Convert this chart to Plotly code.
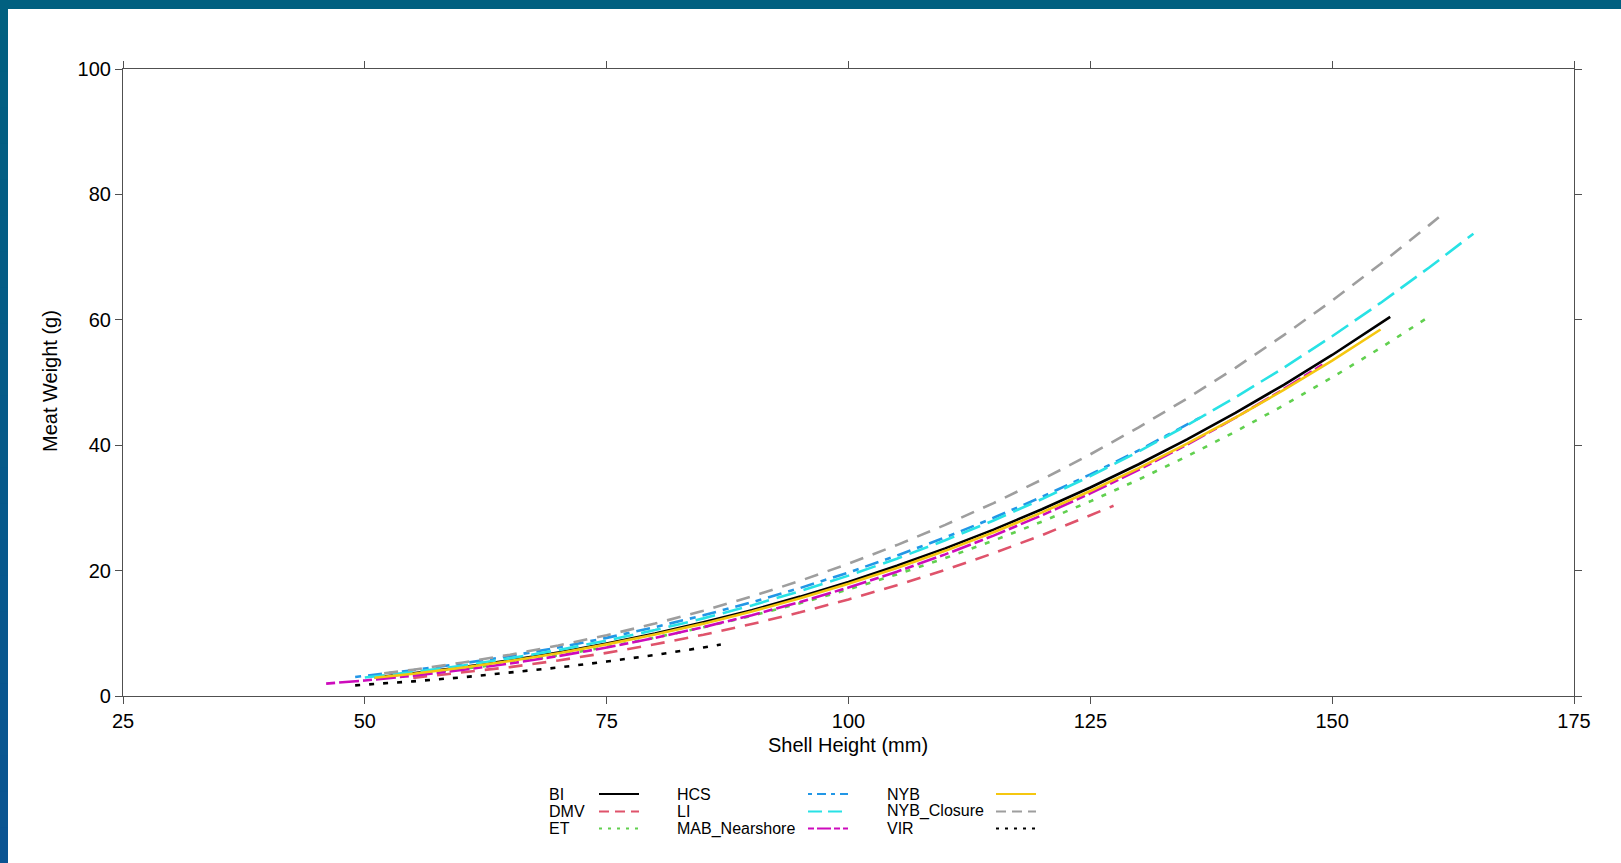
import plotly.graph_objects as go

# ---------------- data ----------------
BI_H = [51, 55, 60, 65, 70, 75, 80, 85, 90, 95, 100, 105, 110, 115, 120, 125, 130, 135, 140, 145, 150, 155, 156]
BI_W = [2.95, 3.62, 4.58, 5.69, 6.95, 8.37, 9.96, 11.74, 13.69, 15.85, 18.2, 20.76, 23.54, 26.54, 29.78, 33.25,
        36.96, 40.93, 45.15, 49.64, 54.39, 59.43, 60.47]

DMV_H = [55, 60, 65, 70, 75, 80, 85, 90, 95, 100, 105, 110, 115, 120, 125, 127.4]
DMV_W = [2.89, 3.69, 4.61, 5.67, 6.88, 8.25, 9.77, 11.47, 13.34, 15.4, 17.65, 20.11, 22.78, 25.66, 28.77, 30.34]

ET_H = [55, 60, 65, 70, 75, 80, 85, 90, 95, 100, 105, 110, 115, 120, 125, 130, 135, 140, 145, 150, 155, 159.8]
ET_W = [3.38, 4.28, 5.31, 6.49, 7.82, 9.31, 10.96, 12.79, 14.80, 17.0, 19.39, 21.99, 24.79, 27.81, 31.05, 34.52,
        38.23, 42.17, 46.36, 50.81, 55.51, 60.28]

HCS_H = [49, 55, 60, 65, 70, 75, 80, 85, 90, 95, 100, 105, 110, 115, 120, 125, 130, 135, 137]
HCS_W = [3.04, 4.12, 5.17, 6.37, 7.74, 9.27, 10.98, 12.87, 14.95, 17.22, 19.7, 22.39, 25.29, 28.42, 31.76, 35.34,
         39.18, 43.25, 44.95]

LI_H = [50, 55, 60, 65, 70, 75, 80, 85, 90, 95, 100, 105, 110, 115, 120, 125, 130, 135, 140, 145, 150, 155, 160, 164.6]
LI_W = [2.95, 3.82, 4.83, 6.00, 7.33, 8.83, 10.51, 12.38, 14.45, 16.72, 19.2, 21.90, 24.84, 28.00, 31.41, 35.07,
        38.99, 43.18, 47.63, 52.36, 57.38, 62.69, 68.30, 73.73]

MAB_H = [46, 50, 55, 60, 65, 70, 75, 80, 85, 90, 95, 100, 105, 110, 115, 120, 125, 130, 135, 140, 145, 149]
MAB_W = [1.97, 2.48, 3.24, 4.14, 5.18, 6.37, 7.73, 9.26, 10.98, 12.88, 14.99, 17.3, 19.83, 22.59, 25.58, 28.82,
         32.31, 36.06, 40.09, 44.38, 48.96, 52.84]

NYB_H = [51, 55, 60, 65, 70, 75, 80, 85, 90, 95, 100, 105, 110, 115, 120, 125, 130, 135, 140, 145, 150, 155]
NYB_W = [2.91, 3.56, 4.51, 5.59, 6.83, 8.23, 9.80, 11.54, 13.47, 15.59, 17.9, 20.42, 23.15, 26.11, 29.29, 32.70,
         36.35, 40.25, 44.40, 48.82, 53.50, 58.45]

NYBC_H = [52, 55, 60, 65, 70, 75, 80, 85, 90, 95, 100, 105, 110, 115, 120, 125, 130, 135, 140, 145, 150, 155, 160, 161.6]
NYBC_W = [3.61, 4.20, 5.31, 6.59, 8.05, 9.70, 11.55, 13.61, 15.88, 18.37, 21.1, 24.07, 27.29, 30.77, 34.52, 38.54,
          42.85, 47.45, 52.34, 57.55, 63.06, 68.90, 75.06, 77.1]

VIR_H = [49, 50, 55, 60, 65, 70, 75, 80, 85, 86.8]
VIR_W = [1.70, 1.80, 2.34, 2.97, 3.70, 4.54, 5.49, 6.55, 7.74, 8.20]

NAMES = ["BI", "DMV", "ET", "HCS", "LI", "MAB_Nearshore", "NYB", "NYB_Closure", "VIR"]
X_TICKS = [25, 50, 75, 100, 125, 150, 175]
Y_TICKS = [0, 20, 40, 60, 80, 100]

# ---------------- styling ----------------
COLORS = ["#000000", "#DF536B", "#61D04F", "#2297E6", "#28E2E5", "#CD0BBC", "#F5C710", "#9E9E9E", "#000000"]
DASH_PLOT = ["solid", "14px,10px", "5px,9px", "6px,7px,14px,7px", "20px,8px", "9px,4px,20px,4px",
             "solid", "14px,10px", "5px,9px"]
DASH_LEG = ["solid", "10px,6px", "3px,6px", "4px,5px,9px,5px", "14px,6px", "6px,3px,14px,3px",
            "solid", "10px,6px", "3px,6px"]

SERIES = [(BI_H, BI_W), (DMV_H, DMV_W), (ET_H, ET_W), (HCS_H, HCS_W), (LI_H, LI_W),
          (MAB_H, MAB_W), (NYB_H, NYB_W), (NYBC_H, NYBC_W), (VIR_H, VIR_W)]

FONT = "Arial, Liberation Sans, sans-serif"
W_FIG, H_FIG = 1621, 863
ML, MR, MT, MB = 123, 47, 69, 167
PW = W_FIG - ML - MR
PH = H_FIG - MT - MB


def px(x):
    return (x - ML) / PW


def py(y):
    return (H_FIG - MB - y) / PH


fig = go.Figure()
for name, (h, w), c, d in zip(NAMES, SERIES, COLORS, DASH_PLOT):
    fig.add_trace(go.Scatter(x=h, y=w, mode="lines", name=name, showlegend=False,
                             line=dict(color=c, width=2.6, dash=d)))

axis_common = dict(showgrid=False, zeroline=False, showline=True, linecolor="#505050", linewidth=1.2,
                   ticks="outside", ticklen=7, tickwidth=1.2, tickcolor="#505050", mirror="allticks",
                   tickfont=dict(family=FONT, size=20, color="#000000"))
fig.update_xaxes(range=[25, 175], tickvals=X_TICKS, **axis_common)
fig.update_yaxes(range=[0, 100], tickvals=Y_TICKS, **axis_common)

shapes = []
annotations = []

# axis titles
annotations.append(dict(text="Shell Height (mm)", x=px(848), y=py(745), xref="paper", yref="paper",
                        showarrow=False, xanchor="center", yanchor="middle",
                        font=dict(family=FONT, size=20, color="#000000")))
annotations.append(dict(text="Meat Weight (g)", x=px(50), y=py(381), xref="paper", yref="paper",
                        showarrow=False, xanchor="center", yanchor="middle", textangle=-90,
                        font=dict(family=FONT, size=20, color="#000000")))

# legend (text then line key to the right, 3 columns x 3 rows)
text_x = [547, 675, 885]
line_x = [(599, 639), (808, 848), (996, 1036)]
row_y = [794, 811.5, 828.5]
for i, name in enumerate(NAMES):
    c, r = divmod(i, 3)
    annotations.append(dict(text=name, x=px(text_x[c]), y=py(row_y[r]), xref="paper", yref="paper",
                            showarrow=False, xanchor="left", yanchor="middle",
                            font=dict(family=FONT, size=16, color="#000000")))
    shapes.append(dict(type="line", xref="paper", yref="paper",
                       x0=px(line_x[c][0]), x1=px(line_x[c][1]), y0=py(row_y[r]), y1=py(row_y[r]),
                       line=dict(color=COLORS[i], width=2, dash=DASH_LEG[i])))

# page frame: top bar and left gradient bar
shapes.append(dict(type="rect", xref="paper", yref="paper", x0=px(0), x1=px(W_FIG), y0=py(0), y1=py(9),
                   fillcolor="rgb(1,96,128)", line=dict(width=0)))
n_strips = 24
c_top = (1, 96, 128)
c_bot = (10, 84, 146)
for k in range(n_strips):
    t = k / (n_strips - 1)
    col = "rgb(%d,%d,%d)" % tuple(round(a + (b - a) * t) for a, b in zip(c_top, c_bot))
    y0 = H_FIG * k / n_strips
    y1 = H_FIG * (k + 1) / n_strips + 1
    shapes.append(dict(type="rect", xref="paper", yref="paper", x0=px(0), x1=px(8), y0=py(y0), y1=py(y1),
                       fillcolor=col, line=dict(width=0)))

fig.update_layout(width=W_FIG, height=H_FIG, paper_bgcolor="#ffffff", plot_bgcolor="#ffffff",
                  margin=dict(l=ML, r=MR, t=MT, b=MB, pad=0), shapes=shapes, annotations=annotations,
                  showlegend=False, font=dict(family=FONT))

fig.write_html("out.html")
